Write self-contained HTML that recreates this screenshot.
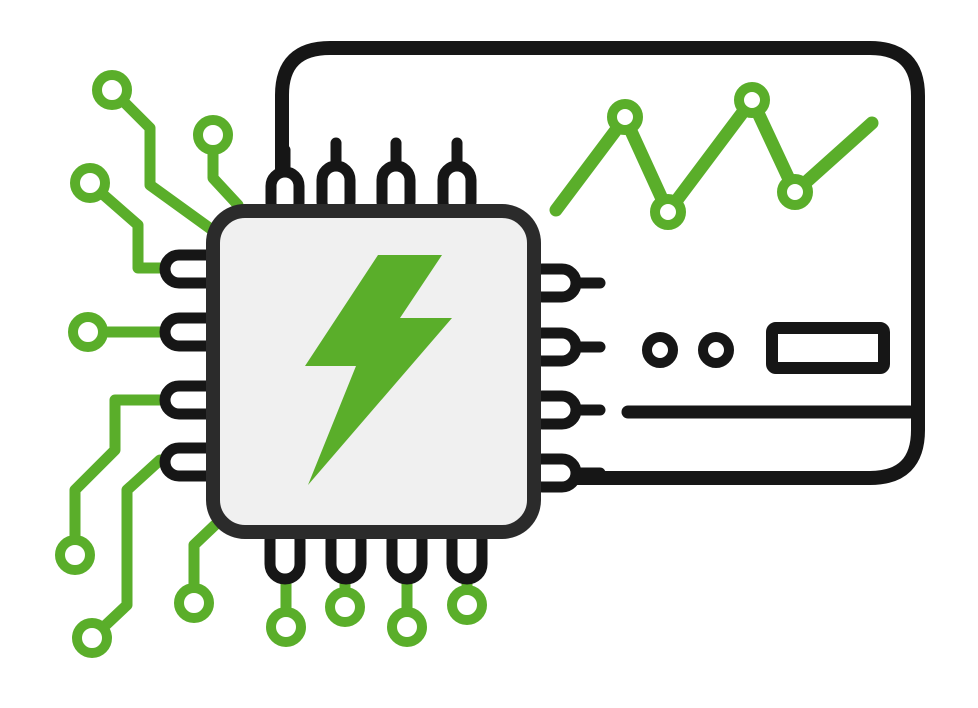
<!DOCTYPE html>
<html><head><meta charset="utf-8"><style>
html,body{margin:0;padding:0;background:#fff;}
svg{display:block;}
</style></head><body>
<svg width="978" height="708" viewBox="0 0 978 708" xmlns="http://www.w3.org/2000/svg">
<g fill="none" stroke-linecap="round" stroke-linejoin="round">
<!-- monitor -->
<path d="M282 180 L282 95 Q282 48 330 48 L870 48 Q918 48 918 96 L918 430 Q918 478 870 478 L560 478" stroke="#161616" stroke-width="14"/>
<line x1="628" y1="412" x2="910" y2="412" stroke="#161616" stroke-width="13"/>
<circle cx="660" cy="350" r="13" stroke="#161616" stroke-width="10"/>
<circle cx="716" cy="350" r="13" stroke="#161616" stroke-width="10"/>
<rect x="772" y="328" width="112" height="40" rx="4" stroke="#161616" stroke-width="12"/>
<!-- chart -->
<polyline points="556,210 625,118 668,212 752,100 795,192 872,123" stroke="#5aae2a" stroke-width="13"/>
<g fill="#fff" stroke="#5aae2a" stroke-width="10">
<circle cx="625" cy="117" r="13"/><circle cx="668" cy="212" r="13"/><circle cx="752" cy="100" r="13"/><circle cx="795" cy="192" r="13"/>
</g>
<!-- green traces -->
<g stroke="#5aae2a" stroke-width="11">
<polyline points="112,90 150,128 150,185 215,232"/>
<polyline points="213,135 213,178 238,205"/>
<polyline points="90,183 138,225 138,268 170,268"/>
<polyline points="88,332 170,332"/>
<polyline points="75,555 75,490 115,450 115,400 170,400"/>
<polyline points="92,638 127,605 127,490 160,460"/>
<polyline points="194,603 194,545 215,525"/>
<line x1="286" y1="627" x2="286" y2="575"/>
<line x1="345" y1="607" x2="345" y2="575"/>
<line x1="407" y1="627" x2="407" y2="575"/>
<line x1="467" y1="605" x2="467" y2="575"/>
</g>
<g fill="#fff" stroke="#5aae2a" stroke-width="10">
<circle cx="112" cy="90" r="15"/><circle cx="213" cy="135" r="15"/><circle cx="90" cy="183" r="15"/>
<circle cx="88" cy="332" r="15"/><circle cx="75" cy="555" r="15"/><circle cx="92" cy="638" r="15"/>
<circle cx="194" cy="603" r="15"/><circle cx="286" cy="627" r="15"/><circle cx="345" cy="607" r="15"/>
<circle cx="407" cy="627" r="15"/><circle cx="467" cy="605" r="15"/>
</g>
<!-- pins -->
<g stroke="#161616" stroke-width="11" fill="#fff">
<!-- top -->
<line x1="285" y1="150" x2="285" y2="175"/><rect x="271" y="172" width="28" height="45" rx="14"/>
<line x1="336" y1="143" x2="336" y2="170"/><rect x="322" y="166" width="28" height="50" rx="14"/>
<line x1="396" y1="143" x2="396" y2="170"/><rect x="382" y="166" width="28" height="50" rx="14"/>
<line x1="457" y1="143" x2="457" y2="170"/><rect x="443" y="166" width="28" height="50" rx="14"/>
<!-- left -->
<rect x="165" y="255" width="55" height="28" rx="14"/>
<rect x="165" y="318" width="55" height="28" rx="14"/>
<rect x="165" y="386" width="55" height="28" rx="14"/>
<rect x="165" y="448" width="55" height="28" rx="14"/>
<!-- right -->
<line x1="570" y1="283" x2="600" y2="283"/><rect x="528" y="269" width="48" height="28" rx="14"/>
<line x1="570" y1="347" x2="600" y2="347"/><rect x="528" y="333" width="48" height="28" rx="14"/>
<line x1="570" y1="410" x2="600" y2="410"/><rect x="528" y="396" width="48" height="28" rx="14"/>
<line x1="570" y1="473" x2="600" y2="473"/><rect x="528" y="459" width="48" height="28" rx="14"/>
<!-- bottom -->
<rect x="270" y="525" width="30" height="54" rx="15"/>
<rect x="331" y="525" width="30" height="54" rx="15"/>
<rect x="392" y="525" width="30" height="54" rx="15"/>
<rect x="452" y="525" width="30" height="54" rx="15"/>
</g>
<!-- chip -->
<rect x="213" y="211" width="321" height="321" rx="32" fill="#f0f0f0" stroke="#2b2b2b" stroke-width="14"/>
</g>
<polygon points="378,255 442,255 400,318 452,318 308,485 356,366 305,366" fill="#5aae2a"/>
</svg>
</body></html>
